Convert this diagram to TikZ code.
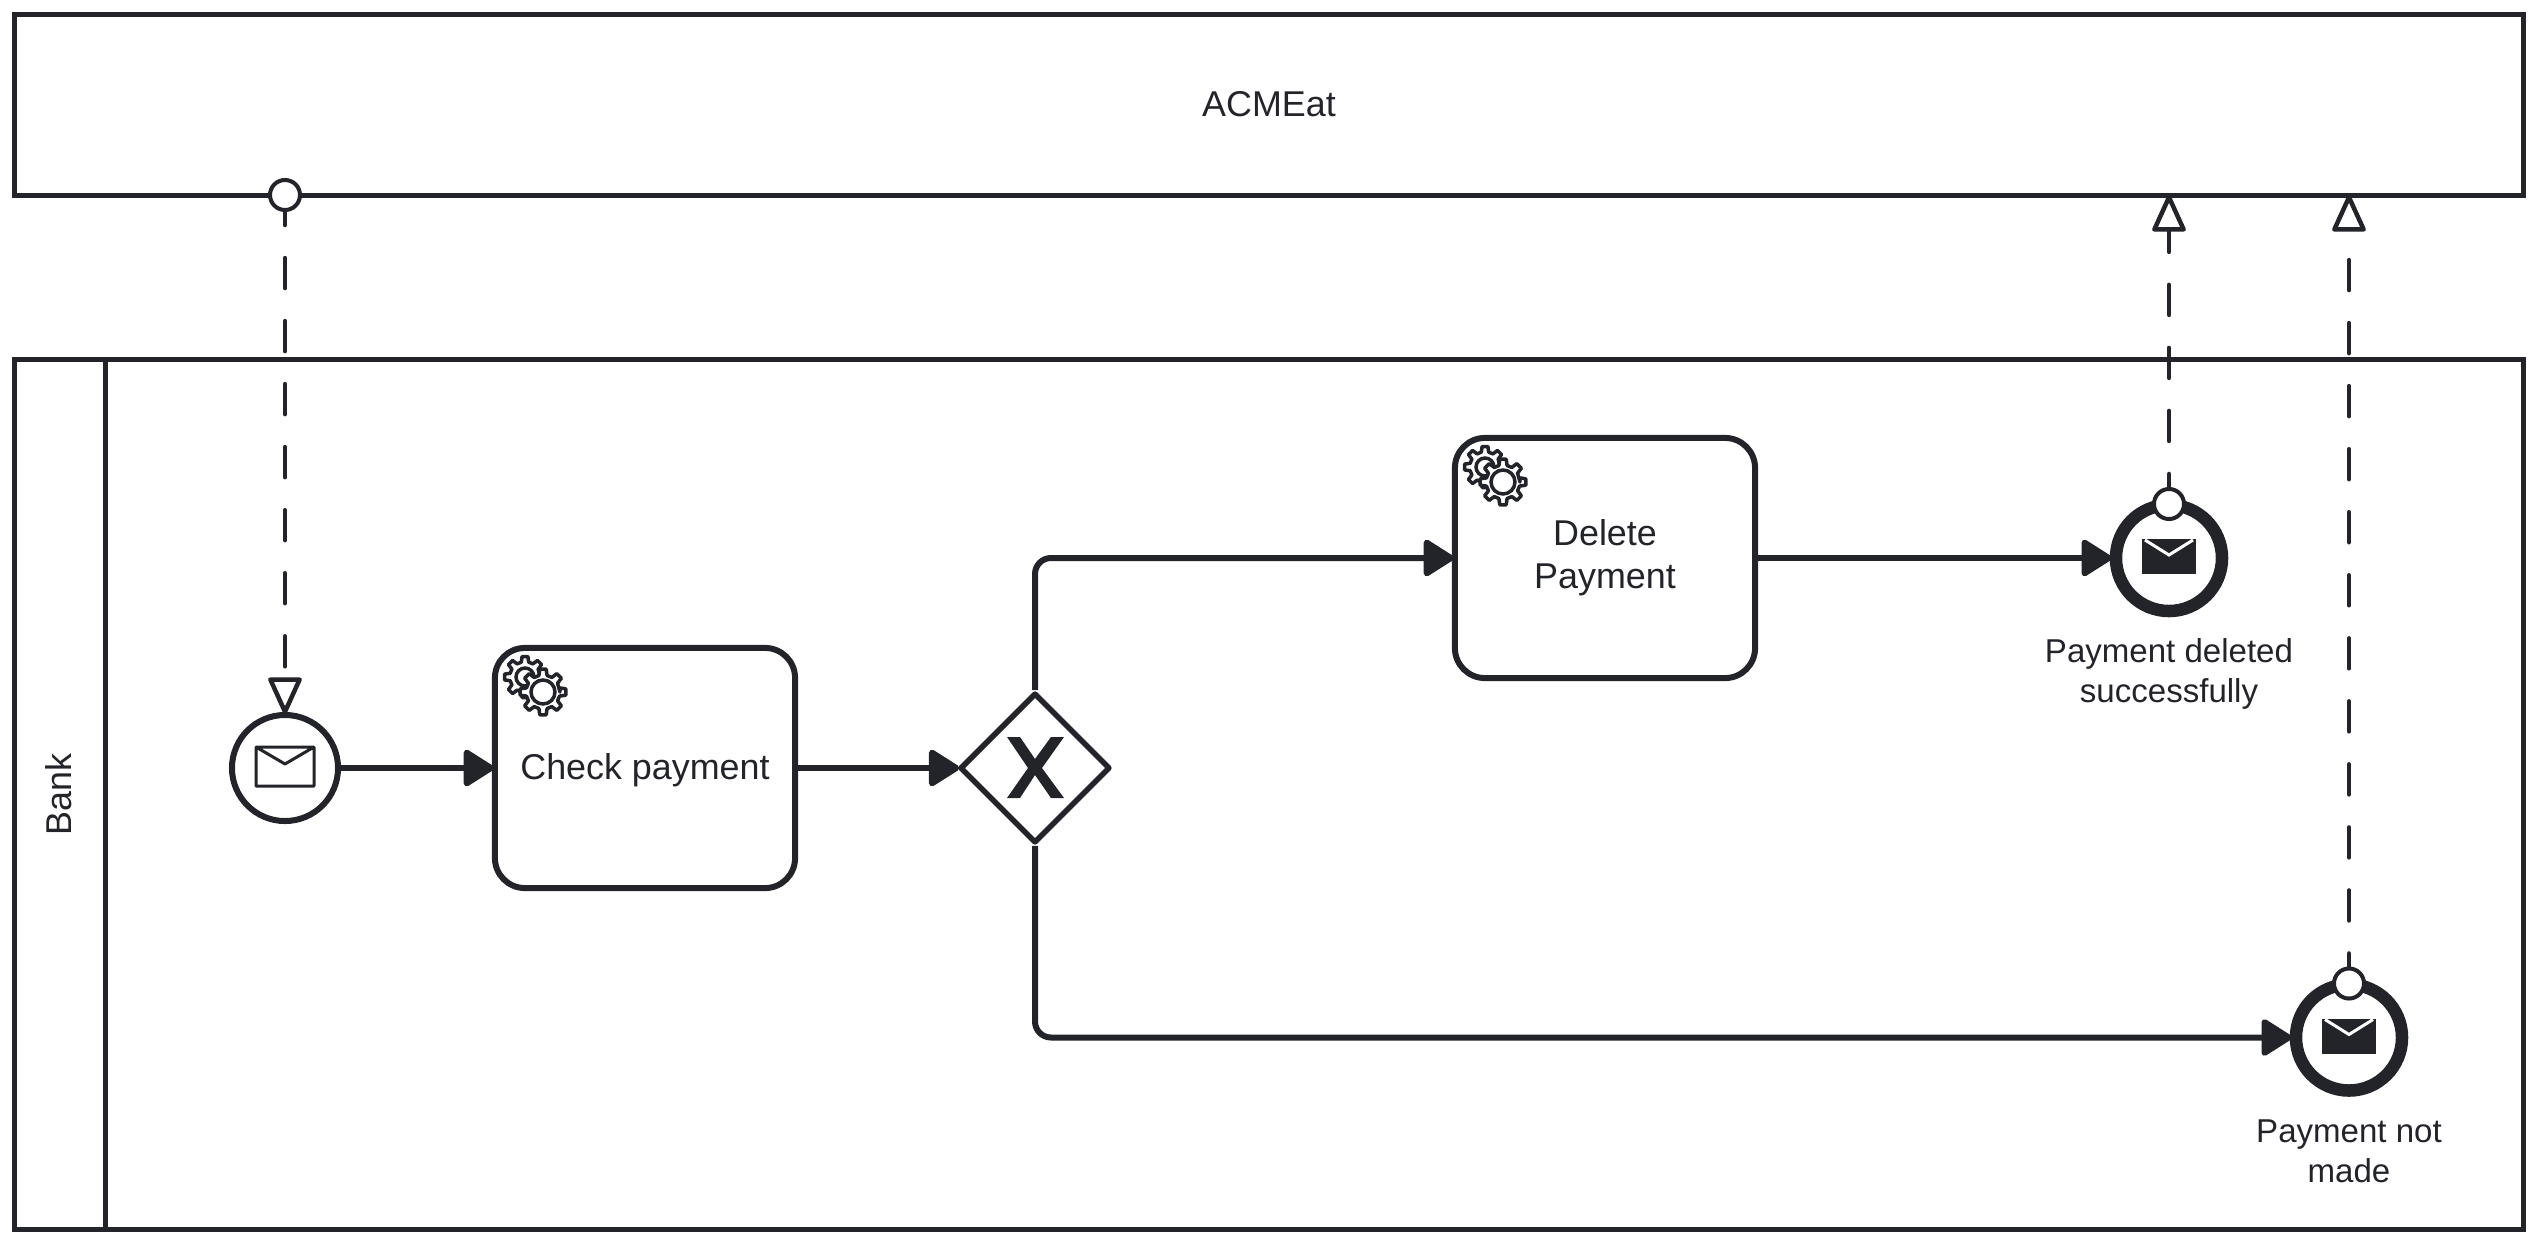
\documentclass[tikz,border=0pt]{standalone}
\usepackage{fontspec}
\setmainfont{Liberation Sans}
\usetikzlibrary{arrows.meta,shapes.geometric}
\definecolor{ink}{HTML}{22242A}
\newcommand{\bigtext}{\fontsize{10.2}{12.2}\selectfont}
\newcommand{\smalltext}{\fontsize{9.4}{11.4}\selectfont}
\tikzset{
	pool/.style={draw=ink, line width=0.05cm, text=ink, font=\bigtext, text depth=0.03cm},
	task/.style={draw=ink, line width=0.06cm, rounded corners=0.3cm, minimum width=3cm, minimum height=2.4cm, align=center, text=ink, font=\bigtext, execute at begin node={\rule{0pt}{8.9pt}}},
	startevent/.style={circle, draw=ink, line width=0.06cm, minimum size=1.06cm, inner sep=0pt},
	endevent/.style={circle, draw=ink, line width=0.125cm, minimum size=1.06cm, inner sep=0pt},
	gateway/.style={diamond, draw=ink, line width=0.055cm, minimum size=1.5cm, inner sep=0pt, line join=round},
	port/.style={circle, draw=ink, fill=white, line width=0.04cm, minimum size=0.3cm, inner sep=0pt},
	label/.style={align=center, text=ink, font=\smalltext},
	seqflow/.style={draw=ink, line width=0.06cm, rounded corners=0.16cm, shorten >=-0.02cm, -{Triangle[length=0.33cm,width=0.40cm,round]}},
	msgflow/.style={draw=ink, line width=0.045cm, line cap=round, dash pattern=on 0.30cm off 0.33cm, shorten >=-0.02cm, -{Triangle[open,fill=white,length=0.40cm,width=0.35cm,round]}},
	gearpic/.pic={
		\draw[ink, fill=white, line width=0.035cm, line join=round] (0:17)
			\foreach \a in {0,45,...,315} { -- (\a-14:17) -- (\a-8:23) -- (\a+8:23) -- (\a+14:17) } -- cycle;
		\draw[ink, line width=0.035cm] (0,0) circle (#1);
	}
}
\begin{document}
\begin{tikzpicture}[x=0.01cm, y=-0.01cm]
	\useasboundingbox (0,0) rectangle (2538,1245);
	% Pools
	\node[pool, minimum width=25.08cm, minimum height=1.8cm] (acmeat) at (1269,105) {ACMEat};
	\node[pool, minimum width=25.08cm, minimum height=8.69cm] (bank) at (1269,794.5) {};
	\node[pool, rotate=90, minimum width=8.69cm, minimum height=0.9cm] (banklabel) at (60,794.5) {Bank};
	% Events and tasks
	\node[startevent] (start) at (285,768) {};
	\node[task] (check) at (645,768) {Check payment};
	\node[gateway] (xor) at (1035,768) {};
	\node[task] (delete) at (1605,558) {Delete\\Payment};
	\node[endevent] (deleted) at (2169,558) {};
	\node[endevent] (notmade) at (2349,1037.5) {};
	\node[label] (deletedtext) at (2169,674) {Payment deleted\\successfully};
	\node[label] (notmadetext) at (2349,1151) {Payment not\\made};
	% Sequence flows
	\draw[seqflow] (start) -- (check);
	\draw[seqflow] (check) -- (xor);
	\draw[seqflow] (xor.north) |- (delete.west);
	\draw[seqflow] (xor.south) |- (notmade.west);
	\draw[seqflow] (delete) -- (deleted);
	% Message flows
	\coordinate (portin) at (285,195);
	\coordinate (portdeleted) at (2169,504);
	\coordinate (portnotmade) at (2349,983.5);
	\coordinate (acmedeleted) at (2169,197);
	\coordinate (acmenotmade) at (2349,197);
	\draw[msgflow] (portin) -- (start.north);
	\draw[msgflow] (portdeleted) -- (acmedeleted);
	\draw[msgflow] (portnotmade) -- (acmenotmade);
	\node[port] (in) at (portin) {};
	\node[port] (outdeleted) at (portdeleted) {};
	\node[port] (outnotmade) at (portnotmade) {};
	% Gears
	\pic[scale=0.9] at (525,677) {gearpic=10};
	\pic at (543,692) {gearpic=12};
	\pic[scale=0.9] at (1485,467) {gearpic=10};
	\pic at (1503,482) {gearpic=12};
	% Gateway mark
	\fill[ink, shift={(xor.center)}] (-28,-31) -- (-15,-31) -- (0,-9) -- (16,-31) -- (29,-31) -- (7,0) -- (29,30) -- (16,30) -- (0,7) -- (-15,30) -- (-28,30) -- (-7,0) -- cycle;
	% Envelopes
	\draw[ink, line width=0.03cm, line join=round] (256,747) rectangle (314,786) (256,747) -- (285,764) -- (314,747);
	\foreach \x/\y in {2169/558, 2349/1037.5} {
		\fill[ink] (\x-27,\y-19) rectangle (\x+27,\y+16);
		\draw[white, line width=0.03cm] (\x-24,\y-18) -- (\x,\y-3) -- (\x+24,\y-18);
	}
\end{tikzpicture}
\end{document}
